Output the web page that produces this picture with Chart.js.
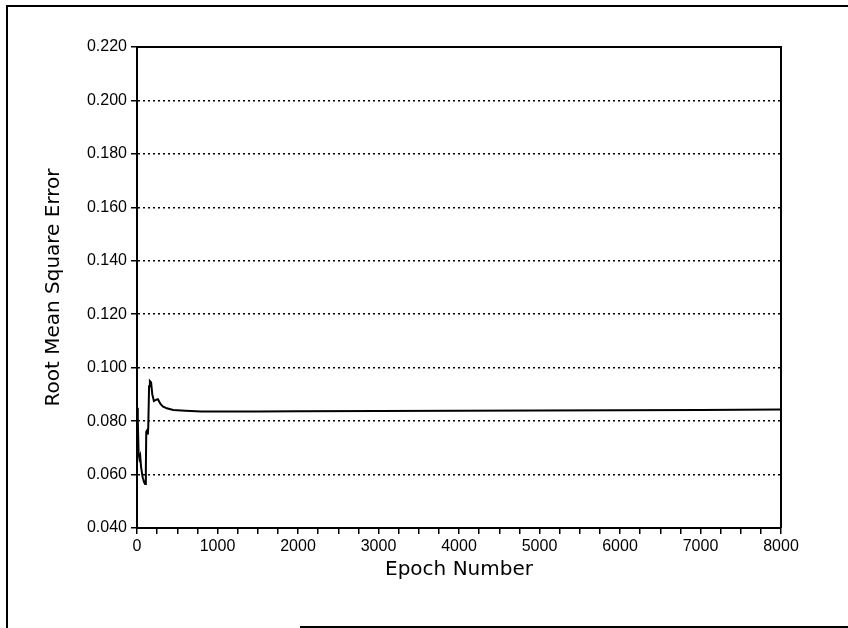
<!DOCTYPE html>
<html>
<head>
<meta charset="utf-8">
<script src="https://cdn.jsdelivr.net/npm/chart.js@4"></script>
<style>
  html, body { margin: 0; padding: 0; background: #fff; }
  #wrap { width: 848px; height: 628px; position: relative; }
</style>
</head>
<body>
<div id="wrap"><canvas id="rmse"></canvas></div>
<script>
// values
const epochs = [0, 10, 20, 30, 40, 50, 70, 90, 100, 110, 115, 125, 135, 140, 150, 160, 175, 190, 210, 240, 260, 290, 320, 370, 450, 600, 800, 1000, 1500, 2000, 3000, 4000, 5000, 6000, 7000, 8000];
const rmse = [0.085, 0.080, 0.068, 0.066, 0.067, 0.063, 0.059, 0.057, 0.0565, 0.062, 0.076, 0.0765, 0.075, 0.078, 0.093, 0.095, 0.0945, 0.090, 0.0875, 0.088, 0.0882, 0.0865, 0.0855, 0.0848, 0.0842, 0.0839, 0.0836, 0.0836, 0.0836, 0.0837, 0.0838, 0.0839, 0.0840, 0.0841, 0.0842, 0.0843];

const xMin = 0, xMax = 8000, xStep = 250, xLabelEvery = 1000;
const yMin = 0.04, yMax = 0.22, yStep = 0.02;

// box round the plot + the page border of the scan
const framePlugin = {
    id: 'frame',
    afterDraw(chart) {
        const ctx = chart.ctx
        const a = chart.chartArea
        ctx.save()
        ctx.strokeStyle = '#000'
        ctx.lineWidth = 2
        ctx.beginPath()
        ctx.moveTo(a.left, a.top)
        ctx.lineTo(a.right, a.top)
        ctx.lineTo(a.right, a.bottom)
        ctx.stroke()
        ctx.beginPath()
        ctx.moveTo(7, 628)
        ctx.lineTo(7, 6)
        ctx.lineTo(848, 6)
        ctx.moveTo(300, 627)
        ctx.lineTo(848, 627)
        ctx.stroke()
        ctx.restore()
    }
}

const points = epochs.map((e, i) => ({ x: e, y: rmse[i] }))

const tickFont = { family: 'Liberation Sans, Arial, sans-serif', size: 16 }
const titleFont = { family: 'DejaVu Sans, sans-serif', size: 20 }

const config = {
    type: 'scatter',
    data: {
        datasets: [{
            data: points,
            showLine: true,
            borderColor: '#000',
            borderWidth: 2,
            pointRadius: 0,
            tension: 0
        }]
    },
    options: {
        responsive: false,
        animation: false,
        layout: { padding: { left: 38, top: 47, right: 67, bottom: 42 } },
        plugins: { legend: { display: false }, tooltip: { enabled: false } },
        scales: {
            x: {
                type: 'linear',
                min: xMin,
                max: xMax,
                afterFit: (s) => { s.height = 58 },
                ticks: {
                    stepSize: xStep,
                    maxTicksLimit: 100,
                    autoSkip: false,
                    maxRotation: 0,
                    minRotation: 0,
                    padding: 3,
                    color: '#000',
                    font: tickFont,
                    callback: (v) => (v % xLabelEvery === 0 ? String(v) : '')
                },
                grid: { drawOnChartArea: false, tickLength: 6, color: '#000', lineWidth: 1.5 },
                border: { color: '#000', width: 2 },
                title: {
                    display: true,
                    text: 'Epoch Number',
                    color: '#000',
                    padding: { top: 4, bottom: 4 },
                    font: titleFont
                }
            },
            y: {
                min: yMin,
                max: yMax,
                afterFit: (s) => { s.width = 99 },
                ticks: {
                    stepSize: yStep,
                    padding: 4,
                    color: '#000',
                    font: tickFont,
                    callback: (v) => v.toFixed(3)
                },
                grid: { color: '#000', lineWidth: 1.5, tickLength: 6, tickWidth: 1.5 },
                border: { color: '#000', width: 2, dash: [2, 3] },
                title: {
                    display: true,
                    text: 'Root Mean Square Error',
                    color: '#000',
                    padding: { top: 4, bottom: 0 },
                    font: titleFont
                }
            }
        }
    },
    plugins: [framePlugin]
}

const canvas = document.getElementById('rmse')
canvas.width = 848
canvas.height = 628
new Chart(canvas.getContext('2d'), config)
</script>
</body>
</html>
